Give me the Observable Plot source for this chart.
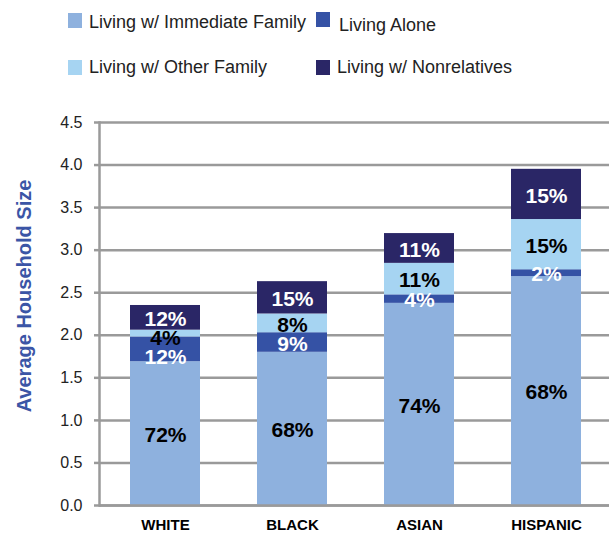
<!DOCTYPE html>
<html>
<head>
<meta charset="utf-8">
<script src="https://cdn.jsdelivr.net/npm/d3@7"></script>
<script src="https://cdn.jsdelivr.net/npm/@observablehq/plot@0.6"></script>
<style>
  html, body { margin: 0; padding: 0; background: #fff; }
  #wrap { position: relative; width: 609px; height: 535px; overflow: hidden; font-family: "Liberation Sans", Arial, sans-serif; background: #fff; }
  .sw { position: absolute; width: 14px; height: 15px; }
  .lt { position: absolute; font-size: 18px; line-height: 18px; color: #222; white-space: nowrap; }
  #chart { position: absolute; left: 0; top: 95px; z-index: 1; }
  #ylab { position: absolute; left: 23.5px; top: 296px; transform: translate(-50%, -50%) rotate(-90deg); font-size: 20px; font-weight: bold; color: #3B55A6; white-space: nowrap; z-index: 2; }
</style>
</head>
<body>
<div id="wrap">
  <div id="legend"></div>
  <div id="chart"></div>
  <div id="ylab">Average Household Size</div>
</div>
<script>
const groups = ["WHITE", "BLACK", "ASIAN", "HISPANIC"];
const categories = ["Living w/ Immediate Family", "Living Alone", "Living w/ Other Family", "Living w/ Nonrelatives"];
const colors = ["#8EB1DE", "#3552A5", "#A6D4F2", "#2A2666"];
const labelColors = ["black", "white", "black", "white"];

const immediate = [1.69, 1.80, 2.375, 2.69];
const alone     = [0.29, 0.23, 0.10, 0.08];
const other     = [0.08, 0.22, 0.37, 0.59];
const nonrel    = [0.29, 0.38, 0.35, 0.59];

const pctImmediate = [72, 68, 74, 68];
const pctAlone     = [12, 9, 4, 2];
const pctOther     = [4, 8, 11, 15];
const pctNonrel    = [12, 15, 11, 15];

const yTicks = [0, 0.5, 1, 1.5, 2, 2.5, 3, 3.5, 4, 4.5];

// build stacked rows
const series = [immediate, alone, other, nonrel];
const pcts = [pctImmediate, pctAlone, pctOther, pctNonrel];
const rows = [];
const minGap = 0.22; // minimum label separation (value units) to reduce overlap
groups.forEach((g, i) => {
  let acc = 0;
  const grp = [];
  series.forEach((s, k) => {
    const r = {group: g, cat: categories[k], y1: acc, y2: acc + s[i], label: pcts[k][i] + "%", lc: labelColors[k]};
    r.ly = (r.y1 + r.y2) / 2;
    grp.push(r);
    acc += s[i];
  });
  // top-down sweep: push labels downward if too close to the one above
  for (let k = grp.length - 2; k >= 1; k--) {
    if (grp[k + 1].ly - grp[k].ly < minGap) grp[k].ly = grp[k + 1].ly - minGap;
  }
  rows.push(...grp);
});

// legend
const legendItems = [
  {k: 0, sx: 68, sy: 13, tx: 89, ty: 13},
  {k: 1, sx: 316, sy: 12, tx: 339, ty: 15.5},
  {k: 2, sx: 68, sy: 60, tx: 89, ty: 58},
  {k: 3, sx: 316, sy: 60, tx: 337, ty: 58}
];
const leg = document.getElementById("legend");
legendItems.forEach(it => {
  const s = document.createElement("div");
  s.className = "sw";
  s.style.left = it.sx + "px"; s.style.top = it.sy + "px"; s.style.background = colors[it.k];
  leg.appendChild(s);
  const t = document.createElement("div");
  t.className = "lt";
  t.style.left = it.tx + "px"; t.style.top = it.ty + "px";
  t.textContent = categories[it.k];
  leg.appendChild(t);
});

const gray = "#9a9a9a";
const plot = Plot.plot({
  width: 609,
  height: 440,
  marginTop: 27,
  marginBottom: 30,
  marginLeft: 99,
  marginRight: 0,
  style: {fontFamily: "Liberation Sans, Arial, sans-serif", background: "transparent"},
  x: {domain: groups, range: [99.5, 612], paddingInner: 0.445, paddingOuter: 0.225},
  y: {domain: [0, 4.5]},
  color: {domain: categories, range: colors},
  marks: [
    Plot.gridY(yTicks, {stroke: gray, strokeOpacity: 1, strokeWidth: 2.5}),
    Plot.axisY(yTicks, {tickSize: 5, tickPadding: 12, tickFormat: d => d.toFixed(1), stroke: gray, strokeWidth: 2.5, fontSize: 16, fill: "#222", label: null}),
    Plot.barY(rows, {x: "group", y1: "y1", y2: "y2", fill: "cat"}),
    Plot.frame({anchor: "left", stroke: gray, strokeWidth: 2.5}),
    Plot.ruleY([0], {stroke: gray, strokeWidth: 2.5}),
    Plot.text(rows, {x: "group", y: "ly", text: "label", fill: d => d.lc === "white" ? "#ffffff" : "#000000", fontWeight: "bold", fontSize: 21, dy: 1.5}),
    Plot.axisX({tickSize: 0, tickPadding: 14, fontSize: 15, fontWeight: "bold", fill: "black", label: null})
  ]
});
document.getElementById("chart").appendChild(plot);
</script>
</body>
</html>
